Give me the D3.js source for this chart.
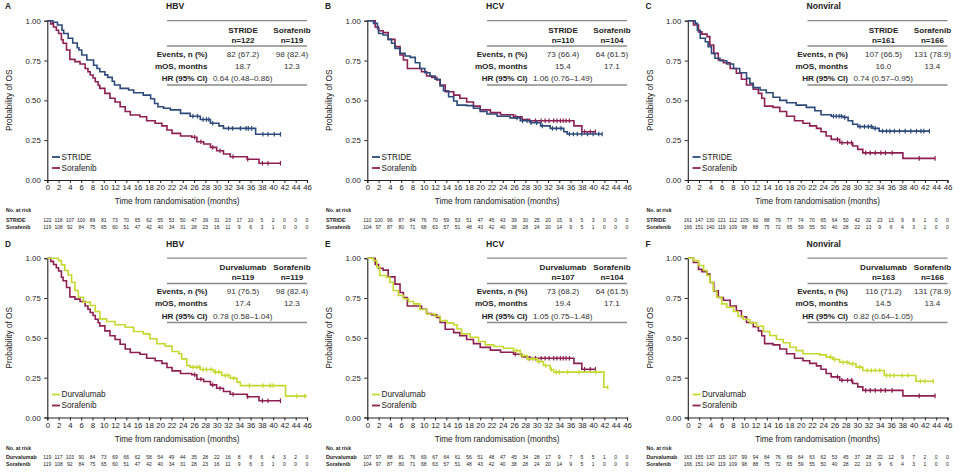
<!DOCTYPE html>
<html><head><meta charset="utf-8">
<script src="https://cdn.jsdelivr.net/npm/d3@7"></script>
<style>
body{margin:0;background:#fff;}
svg{display:block;font-family:"Liberation Sans",Arial,sans-serif;}
</style></head>
<body>
<svg id="c" width="960" height="472"></svg>
<script>
// ---------- tick labels ----------
const xTicks = [0,2,4,6,8,10,12,14,16,18,20,22,24,26,28,30,32,34,36,38,40,42,44,46];
const yTicks = [0,0.25,0.5,0.75,1];
const yTickLabels = ["0.00","0.25","0.50","0.75","1.00"];

// ---------- KM curves [month, survival] ----------
const strideHBV = [[0,1],[1,0.99],[1.8,0.973],[2.6,0.94],[2.9,0.92],[3.7,0.89],[4.5,0.86],[5.3,0.83],[5.6,0.816],[6.1,0.785],[7,0.753],[8.2,0.72],[8.8,0.70],[9.3,0.68],[10.2,0.66],[10.7,0.644],[11.5,0.62],[11.9,0.596],[12.9,0.575],[14.4,0.565],[15.3,0.548],[17,0.533],[18.3,0.51],[19,0.48],[19.6,0.46],[20.6,0.45],[21.8,0.44],[23.6,0.418],[25.3,0.40],[27.1,0.38],[28.9,0.356],[30.4,0.34],[31.2,0.324],[36.9,0.287],[41.3,0.287]];
const sorafHBV = [[0,1],[0.6,0.98],[1.1,0.96],[1.6,0.94],[2,0.92],[2.5,0.88],[2.8,0.858],[3.4,0.816],[4,0.757],[4.9,0.743],[5.8,0.728],[6.7,0.70],[7.2,0.68],[7.6,0.659],[8.1,0.64],[8.5,0.617],[9,0.595],[9.3,0.575],[10.2,0.544],[11.1,0.513],[12,0.49],[12.9,0.46],[13.8,0.43],[14.7,0.408],[16.4,0.397],[17.6,0.372],[19.1,0.356],[20.3,0.34],[21.2,0.314],[22.1,0.293],[23.6,0.276],[25.6,0.268],[26.5,0.24],[27.7,0.226],[28.9,0.205],[30,0.184],[31.2,0.163],[32.4,0.146],[35.4,0.13],[37.5,0.105],[41.3,0.105]];
const strideHCV = [[0,1],[1.1,0.983],[1.8,0.95],[2,0.92],[2.8,0.91],[3.7,0.883],[4.3,0.858],[4.9,0.826],[5.8,0.795],[6.7,0.778],[7.6,0.77],[8.5,0.736],[9.3,0.70],[10.2,0.673],[11.1,0.653],[12,0.632],[12.9,0.59],[13.5,0.56],[14.4,0.523],[15.3,0.496],[15.9,0.47],[17.6,0.467],[18.8,0.45],[20,0.43],[21.2,0.414],[23,0.40],[25.3,0.39],[27.1,0.372],[28.9,0.36],[30.7,0.34],[32.4,0.324],[34.8,0.303],[35.4,0.289],[41.6,0.289]];
const sorafHCV = [[0,1],[1.4,0.96],[2,0.937],[2.8,0.925],[3.7,0.883],[4.9,0.837],[5.8,0.785],[6.4,0.753],[7.1,0.70],[9.6,0.68],[10.5,0.653],[11.4,0.644],[12.3,0.628],[12.9,0.596],[13.8,0.554],[15.3,0.533],[16.4,0.513],[17.6,0.49],[18.8,0.464],[20,0.44],[21.8,0.423],[23.6,0.41],[25.9,0.397],[27.4,0.38],[28.6,0.372],[36.6,0.34],[38,0.303],[40.4,0.303]];
const strideNV = [[0,1],[1.3,0.983],[1.7,0.94],[2.2,0.89],[3.1,0.868],[3.6,0.837],[4.2,0.795],[4.8,0.764],[5.7,0.749],[6.9,0.728],[8.1,0.70],[9.2,0.673],[10.4,0.638],[11,0.607],[11.6,0.58],[12.8,0.565],[13.9,0.548],[15.1,0.519],[16.3,0.50],[17.5,0.485],[19.2,0.47],[21,0.456],[22.5,0.435],[23.6,0.41],[25.4,0.40],[27.5,0.393],[28.4,0.372],[29.2,0.35],[30.1,0.335],[32.8,0.324],[33.9,0.307],[42.8,0.307]];
const sorafNV = [[0,1],[1,0.973],[1.9,0.93],[2.5,0.916],[3.4,0.90],[3.9,0.847],[4.6,0.795],[5.4,0.753],[6.3,0.736],[7.5,0.70],[8.6,0.67],[9.5,0.632],[10.4,0.596],[11.6,0.57],[12.5,0.544],[13.1,0.513],[13.6,0.464],[15.1,0.456],[16.3,0.43],[17.5,0.40],[18.9,0.372],[20.4,0.356],[21.6,0.34],[22.8,0.324],[23.6,0.303],[24.5,0.276],[25.4,0.255],[26.9,0.234],[29.2,0.213],[30.1,0.192],[31,0.17],[38.1,0.136],[43.8,0.136]];
const durvaHBV = [[0,1],[2,0.985],[2.5,0.958],[3.1,0.923],[3.7,0.895],[4.3,0.849],[4.9,0.797],[5.5,0.755],[6.4,0.724],[7.6,0.703],[8.5,0.665],[9.3,0.619],[10.5,0.603],[12,0.582],[13.8,0.567],[15.3,0.54],[17,0.525],[18.2,0.494],[19.4,0.463],[20.9,0.448],[22.1,0.414],[23.3,0.40],[23.8,0.368],[24.7,0.326],[25.3,0.316],[27.1,0.301],[29.5,0.285],[30.9,0.264],[32.4,0.247],[33.6,0.222],[34.2,0.20],[42.2,0.134],[46,0.134]];
const durvaHCV = [[0,1],[1.1,0.985],[1.7,0.944],[2.2,0.891],[3.4,0.88],[4,0.849],[4.6,0.797],[5.5,0.766],[6.4,0.745],[7.3,0.728],[8.2,0.713],[9.3,0.678],[10.5,0.65],[12,0.636],[12.9,0.609],[14.1,0.594],[15.3,0.582],[15.9,0.556],[16.7,0.525],[18.2,0.504],[19.7,0.477],[20.9,0.456],[22.4,0.446],[24.1,0.435],[25.9,0.42],[27.1,0.389],[28.3,0.368],[30.1,0.351],[31.2,0.326],[32.4,0.301],[33,0.285],[41.9,0.19],[42.6,0.19]];
const durvaNV = [[0,1],[1,0.985],[1.9,0.954],[2.8,0.923],[3.4,0.891],[3.9,0.849],[4.5,0.797],[5.1,0.755],[6,0.713],[6.9,0.692],[8.1,0.665],[8.9,0.636],[9.8,0.615],[11,0.594],[12.2,0.573],[13.4,0.54],[14.5,0.515],[15.7,0.49],[16.9,0.469],[18.1,0.441],[19.2,0.42],[20.4,0.40],[23.4,0.393],[24.5,0.379],[25.7,0.364],[26.9,0.347],[28.6,0.337],[29.8,0.316],[31,0.295],[34.8,0.264],[40.4,0.228],[43.5,0.228]];

// ---------- censor times ----------
const cStrideHBV = [25.8,26.6,27.6,28.2,28.6,29.3,32.1,32.8,34.2,35.2,35.6,36.2,38.2,39.1,40.2,41.3];
const cSorafHBV = [26.1,27.2,29.3,30.6,32.9,35.5,38.1,39.1,41.3];
const cStrideHCV = [26.5,27.5,28.3,29,30,31,32.8,33.5,34.3,35.8,36.5,37.2,38,39,40,41,41.6];
const cSorafHCV = [26.2,28.8,29.8,30.8,31.5,32.2,33,33.6,34.2,34.7,35.2,35.8,38.5,39.5,40.4];
const cStrideNV = [25.8,26.3,26.8,27.2,27.8,30.5,31.3,32,32.5,33.2,34.5,35.2,35.8,36.6,37.5,38.5,39.5,40.5,41.3,41.8,42.8];
const cSorafNV = [26.5,27.3,28.3,29,31.5,32.3,33.2,34.2,35,36.2,41,43.8];
const cDurvaHBV = [25.8,26.5,27,27.6,28.2,29,29.8,30.4,31.5,32,33,35.8,38.2,39.5,40,44.2,45.6];
const cDurvaHCV = [26.5,27.5,28.5,29.3,30.4,31.6,32.6,33.5,34,35.5,37.5,40.5,42.6];
const cDurvaNV = [25.3,26,27.5,28.2,29.2,30.5,31.8,32.5,33.2,34,35.2,35.8,36.5,38,39,41.2,42,43.5];

// ---------- numbers at risk ----------
const riskStrideHBV = [122,118,107,100,89,81,73,70,65,62,55,53,50,47,39,31,23,17,10,5,2,0,0,0];
const riskSorafHBV = [119,108,92,84,75,65,60,51,47,42,40,34,31,28,23,16,11,9,6,3,1,0,0,0];
const riskStrideHCV = [110,100,96,87,84,76,70,59,53,51,47,45,43,39,30,25,20,15,9,5,3,0,0,0];
const riskSorafHCV = [104,97,87,80,71,68,63,57,51,48,43,42,40,38,28,24,20,14,9,5,1,0,0,0];
const riskStrideNV = [161,147,130,121,112,105,92,88,79,77,74,70,65,64,50,42,32,23,13,9,6,1,0,0];
const riskSorafNV = [166,151,140,119,109,98,88,75,72,65,59,55,50,40,28,22,13,9,6,4,3,1,0,0];
const riskDurvaHBV = [119,117,103,90,84,73,69,66,62,58,54,49,44,35,28,22,16,8,8,6,4,3,2,0];
const riskDurvaHCV = [107,97,88,81,76,69,67,64,61,56,51,48,47,45,34,28,17,9,7,5,5,1,0,0];
const riskDurvaNV = [163,155,137,115,107,99,94,84,76,69,64,63,62,53,45,37,28,22,12,9,7,2,0,0];

// ---------- summary tables ----------
const panelLetters = ["A","B","C","D","E","F"];
const panelTitles = ["HBV","HCV","Nonviral","HBV","HCV","Nonviral"];
const armNames = [["STRIDE","Sorafenib"],["STRIDE","Sorafenib"],["STRIDE","Sorafenib"],["Durvalumab","Sorafenib"],["Durvalumab","Sorafenib"],["Durvalumab","Sorafenib"]];
const armN = [["n=122","n=119"],["n=110","n=104"],["n=161","n=166"],["n=119","n=119"],["n=107","n=104"],["n=163","n=166"]];
const events = [["82 (67.2)","98 (82.4)"],["73 (66.4)","64 (61.5)"],["107 (66.5)","131 (78.9)"],["91 (76.5)","98 (82.4)"],["73 (68.2)","64 (61.5)"],["116 (71.2)","131 (78.9)"]];
const mos = [["18.7","12.3"],["15.4","17.1"],["16.0","13.4"],["17.4","12.3"],["19.4","17.1"],["14.5","13.4"]];
const hrs = ["0.64 (0.48–0.86)","1.06 (0.76–1.49)","0.74 (0.57–0.95)","0.78 (0.58–1.04)","1.05 (0.75–1.48)","0.82 (0.64–1.05)"];
const rowLabels = ["Events, n (%)","mOS, months","HR (95% CI)"];

const colors = {STRIDE:"#2d4a7b", Sorafenib:"#8e1f52", Durvalumab:"#c4d82f"};

const curves = [[strideHBV,sorafHBV],[strideHCV,sorafHCV],[strideNV,sorafNV],[durvaHBV,sorafHBV],[durvaHCV,sorafHCV],[durvaNV,sorafNV]];
const censors = [[cStrideHBV,cSorafHBV],[cStrideHCV,cSorafHCV],[cStrideNV,cSorafNV],[cDurvaHBV,cSorafHBV],[cDurvaHCV,cSorafHCV],[cDurvaNV,cSorafNV]];
const risks = [[riskStrideHBV,riskSorafHBV],[riskStrideHCV,riskSorafHCV],[riskStrideNV,riskSorafNV],[riskDurvaHBV,riskSorafHBV],[riskDurvaHCV,riskSorafHCV],[riskDurvaNV,riskSorafNV]];

const svg = d3.select("#c");
const TICKFONT = 7.8, LABFONT = 8.2, TABFONT = 8.1;

function survAt(curve, t){
  let s = curve[0][1];
  for (const p of curve){ if (p[0] <= t) s = p[1]; else break; }
  return s;
}

for (let i = 0; i < 6; i++){
  const ox = (i % 3) * 320 + (i % 3 === 2 ? 0.5 : 0);
  const oy = i < 3 ? 0 : 237.5;
  const g = svg.append("g").attr("transform", `translate(${ox},${oy})`);
  const x = d3.scaleLinear().domain([0,46]).range([47.3, 307]);
  const y = d3.scaleLinear().domain([0,1]).range([180, 20.7]);

  // panel letter
  g.append("text").attr("x",5).attr("y",9.3).attr("font-size",8.3).attr("font-weight","bold").attr("fill","#222").text(panelLetters[i]);

  // axes
  const xa = g.append("g").attr("transform",`translate(0,${y(0)})`)
    .call(d3.axisBottom(x).tickValues(xTicks).tickSize(3).tickPadding(1.5).tickFormat(d3.format("d")));
  const ya = g.append("g").attr("transform",`translate(${x(0)},0)`)
    .call(d3.axisLeft(y).tickValues(yTicks).tickSize(3).tickPadding(3.5).tickFormat((d,j)=>yTickLabels[j]));
  [xa,ya].forEach(a=>{
    a.selectAll("path").attr("stroke","#222").attr("stroke-width",1.1);
    a.selectAll("line").attr("stroke","#222").attr("stroke-width",1);
    a.selectAll("text").attr("font-size",TICKFONT).attr("fill","#222").attr("font-family","Liberation Sans, Arial, sans-serif");
  });

  g.append("text").attr("x",(x(0)+x(46))/2).attr("y",204).attr("text-anchor","middle")
    .attr("font-size",LABFONT).attr("fill","#222").text("Time from randomisation (months)");
  g.append("text").attr("transform",`translate(12,${(y(0)+y(1))/2}) rotate(-90)`).attr("text-anchor","middle")
    .attr("font-size",LABFONT).attr("fill","#222").text("Probability of OS");

  // curves
  const line = d3.line().x(d=>x(d[0])).y(d=>y(d[1])).curve(d3.curveStepAfter);
  [1,0].forEach(k=>{
    const col = colors[armNames[i][k]];
    g.append("path").datum(curves[i][k]).attr("d",line).attr("fill","none")
      .attr("stroke",col).attr("stroke-width",1.6);
    g.selectAll(null).data(censors[i][k]).enter().append("line")
      .attr("x1",d=>x(d)).attr("x2",d=>x(d))
      .attr("y1",d=>y(survAt(curves[i][k],d))-2.3).attr("y2",d=>y(survAt(curves[i][k],d))+2.3)
      .attr("stroke",col).attr("stroke-width",1.2);
  });

  // legend
  const legY = [157,168];
  [0,1].forEach(k=>{
    g.append("line").attr("x1",52).attr("x2",60).attr("y1",legY[k]).attr("y2",legY[k])
      .attr("stroke",colors[armNames[i][k]]).attr("stroke-width",1.8);
    g.append("text").attr("x",61.5).attr("y",legY[k]+2.9).attr("font-size",LABFONT).attr("fill","#222").text(armNames[i][k]);
  });

  // summary table
  g.append("text").attr("x",166).attr("y",9.3).attr("font-size",8.6).attr("font-weight","bold").attr("fill","#222").text(panelTitles[i]);
  [20.7,46,85].forEach(ly=>g.append("line").attr("x1",167).attr("x2",307).attr("y1",ly).attr("y2",ly)
    .attr("stroke","#8a8a8a").attr("stroke-width",1.3));
  const colX = [243,292];
  [0,1].forEach(k=>{
    g.append("text").attr("x",colX[k]).attr("y",32.5).attr("text-anchor","middle").attr("font-size",TABFONT).attr("font-weight","bold").attr("fill","#222").text(armNames[i][k]);
    g.append("text").attr("x",colX[k]).attr("y",42.7).attr("text-anchor","middle").attr("font-size",TABFONT).attr("font-weight","bold").attr("fill","#222").text(armN[i][k]);
    g.append("text").attr("x",colX[k]).attr("y",56.7).attr("text-anchor","middle").attr("font-size",TABFONT).attr("fill","#333").text(events[i][k]);
    g.append("text").attr("x",colX[k]).attr("y",68.5).attr("text-anchor","middle").attr("font-size",TABFONT).attr("fill","#333").text(mos[i][k]);
  });
  const rowY = [56.7,68.5,81];
  rowLabels.forEach((t,j)=>g.append("text").attr("x",207.5).attr("y",rowY[j]).attr("text-anchor","end")
    .attr("font-size",TABFONT).attr("font-weight","bold").attr("fill","#222").text(t));
  g.append("text").attr("x",213).attr("y",81).attr("font-size",TABFONT).attr("fill","#333").text(hrs[i]);

  // numbers at risk
  const rOff = -0.8;
  g.append("text").attr("x",6).attr("y",213+rOff).attr("font-size",5.2).attr("font-weight","bold").attr("fill","#222").text("No. at risk");
  const rY = [222.3+rOff,229.3+rOff];
  [0,1].forEach(k=>{
    g.append("text").attr("x",6).attr("y",rY[k]).attr("font-size",5.3).attr("font-weight","bold").attr("fill","#222").text(armNames[i][k]);
    g.selectAll(null).data(risks[i][k]).enter().append("text")
      .attr("x",(d,j)=>x(xTicks[j])).attr("y",rY[k]).attr("text-anchor","middle")
      .attr("font-size",5).attr("fill","#222").text(d=>d);
  });
}
</script>
</body></html>
